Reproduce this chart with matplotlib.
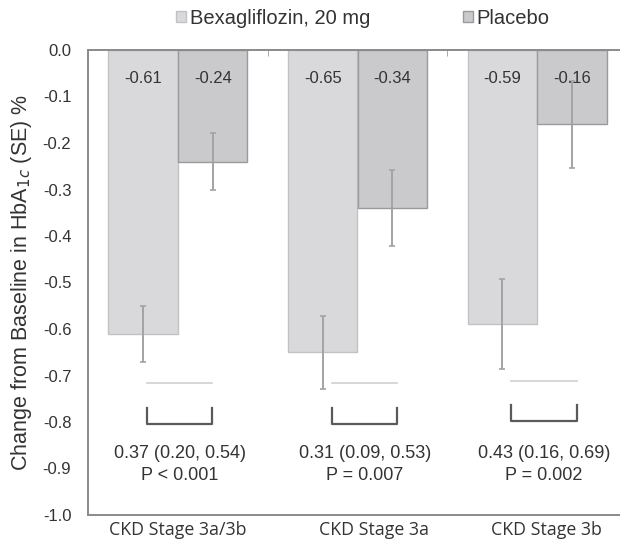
import numpy as np
import matplotlib.pyplot as plt

categories = ["CKD Stage 3a/3b", "CKD Stage 3a", "CKD Stage 3b"]
bexa = [-0.61, -0.65, -0.59]
placebo = [-0.24, -0.34, -0.16]
bexa_se = [0.060, 0.078, 0.097]
placebo_se = [0.062, 0.082, 0.093]
diff_text = ["0.37 (0.20, 0.54)", "0.31 (0.09, 0.53)", "0.43 (0.16, 0.69)"]
p_text = ["P < 0.001", "P = 0.007", "P = 0.002"]
yticks = [-1.0, -0.9, -0.8, -0.7, -0.6, -0.5, -0.4, -0.3, -0.2, -0.1, 0.0]
ytick_labels = ["-1.0", "-0.9", "-0.8", "-0.7", "-0.6", "-0.5", "-0.4", "-0.3", "-0.2", "-0.1", "0.0"]

# layout (bracket positions relative to group centre)
line_x = [(-0.17, 0.19), (-0.14, 0.22), (-0.145, 0.223)]
line_y = [-0.716, -0.716, -0.712]
bracket_y = [(-0.770, -0.804), (-0.770, -0.804), (-0.763, -0.798)]
cat_label_x = [0.0, 1.09, 2.05]

plt.rcParams["font.family"] = ["Liberation Sans", "DejaVu Sans"]

fig = plt.figure(figsize=(6.2, 5.47), dpi=100)
ax = fig.add_axes([88 / 620, 1 - 515 / 547, (627 - 88) / 620, (515 - 50) / 547])

x = np.arange(len(categories))
w = 0.387
off = 0.194
err_kw = dict(ecolor="#a3a3a3", elinewidth=1.4, capsize=2.5, capthick=1.2)
ax.bar(x - off, bexa, w, color="#d9d9db", edgecolor="#c2c2c4", linewidth=1.0,
       yerr=bexa_se, error_kw=err_kw, label="Bexagliflozin, 20 mg", zorder=2)
ax.bar(x + off, placebo, w, color="#cacacc", edgecolor="#9a9a9c", linewidth=1.0,
       yerr=placebo_se, error_kw=err_kw, label="Placebo", zorder=2)

for i in range(len(categories)):
    ax.text(x[i] - off, -0.062, "%.2f" % bexa[i], ha="center", va="center",
            fontsize=12, color="#333333", zorder=5)
    ax.text(x[i] + off, -0.062, "%.2f" % placebo[i], ha="center", va="center",
            fontsize=12, color="#333333", zorder=5)
    x0, x1 = x[i] + line_x[i][0], x[i] + line_x[i][1]
    ax.plot([x0, x1], [line_y[i]] * 2, color="#cfcfcf", lw=1.2, zorder=3)
    yt, yb = bracket_y[i]
    ax.plot([x0, x0, x1, x1], [yt, yb, yb, yt], color="#5a5a5a", lw=1.6, zorder=3)
    xm = (x0 + x1) / 2
    ax.text(xm, -0.867, diff_text[i], ha="center", va="center", fontsize=13, color="#333333")
    ax.text(xm, -0.916, p_text[i], ha="center", va="center", fontsize=13, color="#333333")
    ax.text(cat_label_x[i], -1.033, categories[i], ha="center", va="center",
            fontsize=12.8, color="#333333", family=["Open Sans", "DejaVu Sans"])

ax.set_xlim(-0.5, 2.5)
ax.set_ylim(-1.0, 0.0)
ax.set_yticks(yticks)
ax.set_yticklabels(ytick_labels)
ax.tick_params(axis="y", length=0, pad=12, labelsize=12, labelcolor="#333333")
ax.set_xticks([])
ax.set_xticks([0.5, 1.5], minor=True)
ax.tick_params(axis="x", which="minor", top=True, bottom=False, direction="in",
               length=4, color="#9a9a9a")
for s in ["top", "bottom", "left"]:
    ax.spines[s].set_color("#8a8a8a")
    ax.spines[s].set_linewidth(1.4)
ax.spines["right"].set_visible(False)

ax.set_ylabel("Change from Baseline in HbA$_{1c}$ (SE) %", fontsize=15.5, color="#333333",
              labelpad=6)

fig.legend(loc="center", bbox_to_anchor=(0.585, 1 - 18 / 547), ncol=2, frameon=False,
           fontsize=14.5, handlelength=0.5, handleheight=0.5, handletextpad=0.2,
           columnspacing=4.6, labelcolor="#333333")

fig.savefig("out.png", dpi=100)
